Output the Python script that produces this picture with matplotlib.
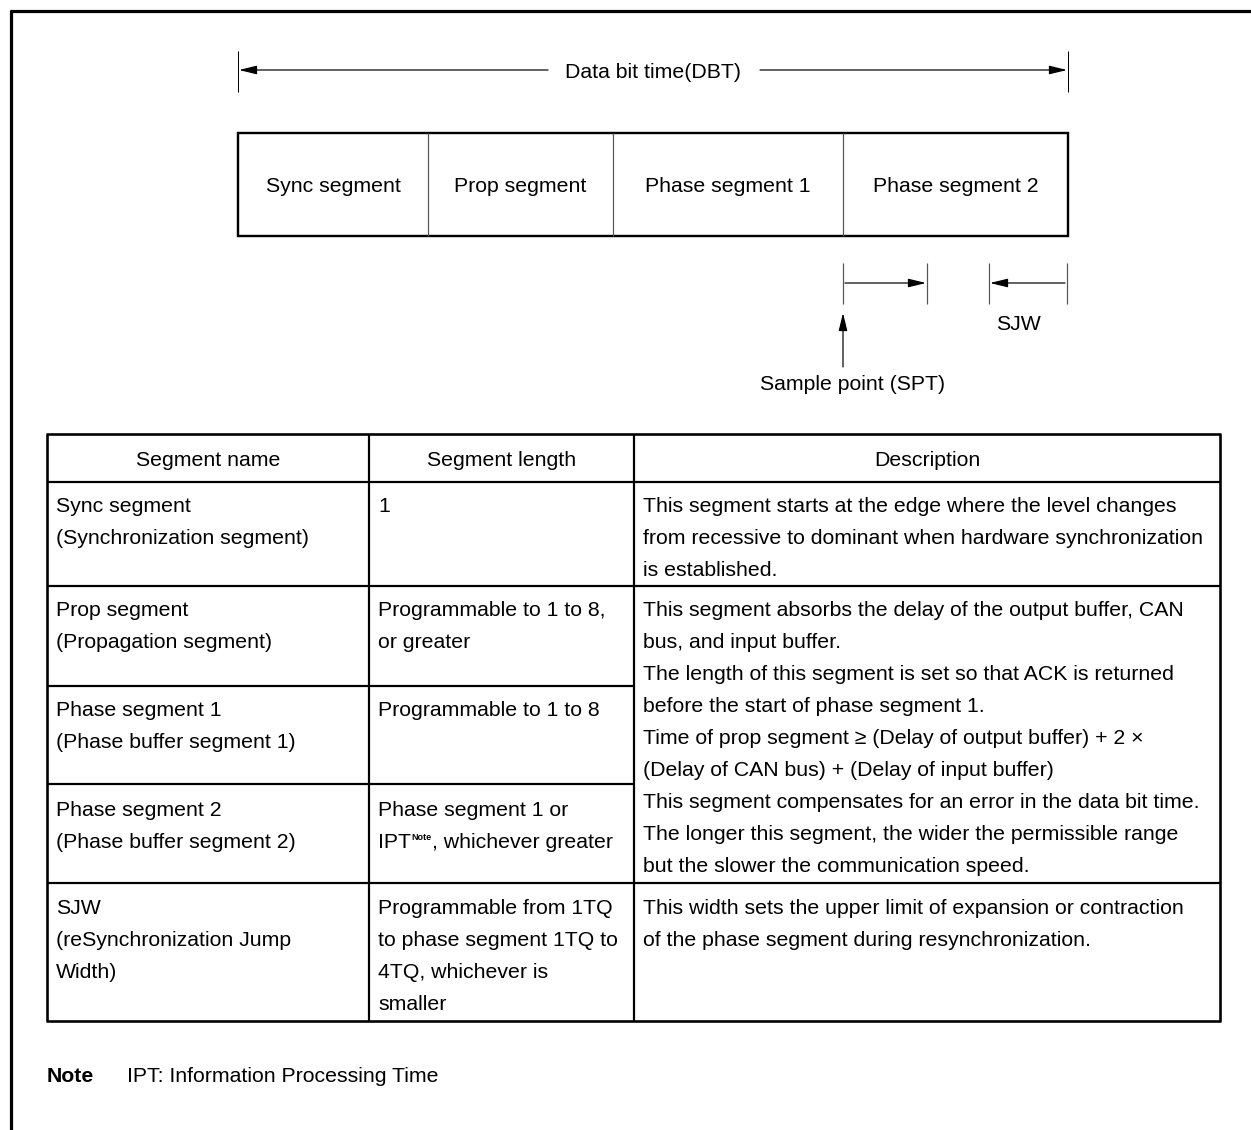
import matplotlib
matplotlib.use("Agg")
import matplotlib.pyplot as plt

plt.rcParams['font.family'] = ['Liberation Sans', 'DejaVu Sans']

# ---------------- data ----------------
dbt_label = "Data bit time(DBT)"
segments = ["Sync segment", "Prop segment", "Phase segment 1", "Phase segment 2"]
sjw_label = "SJW"
spt_label = "Sample point (SPT)"

headers = ["Segment name", "Segment length", "Description"]
names = [
    ["Sync segment", "(Synchronization segment)"],
    ["Prop segment", "(Propagation segment)"],
    ["Phase segment 1", "(Phase buffer segment 1)"],
    ["Phase segment 2", "(Phase buffer segment 2)"],
    ["SJW", "(reSynchronization Jump", "Width)"],
]
lengths = [
    ["1"],
    ["Programmable to 1 to 8,", "or greater"],
    ["Programmable to 1 to 8"],
    ["Phase segment 1 or", "IPT|Note|, whichever greater"],
    ["Programmable from 1TQ", "to phase segment 1TQ to", "4TQ, whichever is", "smaller"],
]
descriptions = [
    ["This segment starts at the edge where the level changes",
     "from recessive to dominant when hardware synchronization",
     "is established."],
    ["This segment absorbs the delay of the output buffer, CAN",
     "bus, and input buffer.",
     "The length of this segment is set so that ACK is returned",
     "before the start of phase segment 1.",
     "Time of prop segment \u2265 (Delay of output buffer) + 2 \u00d7",
     "(Delay of CAN bus) + (Delay of input buffer)",
     "This segment compensates for an error in the data bit time.",
     "The longer this segment, the wider the permissible range",
     "but the slower the communication speed."],
    ["This width sets the upper limit of expansion or contraction",
     "of the phase segment during resynchronization."],
]
desc_rows = [0, 1, 4]  # first table row of each description block
note_label = "Note"
note_text = "IPT: Information Processing Time"

# ---------------- layout ----------------
W, H = 1251, 1130
fig = plt.figure(figsize=(W / 100, H / 100), dpi=100)
ax = fig.add_axes([0, 0, 1, 1])
ax.set_xlim(0, W)
ax.set_ylim(H, 0)
ax.axis('off')

FS = 15.3
PX = 0.72  # points per pixel

def line(x0, y0, x1, y1, lw=1.0, color='black'):
    ax.plot([x0, x1], [y0, y1], color=color, lw=lw * PX, solid_capstyle='butt')

def arrow(x0, y0, x1, y1):
    ax.annotate('', xy=(x1, y1), xytext=(x0, y0),
                arrowprops=dict(arrowstyle='-|>,head_length=0.9,head_width=0.22',
                                mutation_scale=12, lw=1.2 * PX, color='black',
                                shrinkA=0, shrinkB=0))

def txt(x, y, s, ha='left', **kw):
    # y: visual center of the text line
    return ax.text(x, y + 7.5, s, ha=ha, va='baseline', fontsize=kw.pop('fontsize', FS), **kw)

# frame
line(9.5, 11, W, 11, lw=3.2)
line(11, 9.5, 11, H, lw=3.2)

# DBT dimension
xl, xr = 238, 1068
line(xl, 51, xl, 92, lw=1.0)
line(xr, 51, xr, 92, lw=1.0)
txt(653, 70, dbt_label, ha='center')
arrow(548, 70, xl + 1, 70)
arrow(760, 70, xr - 1, 70)

# segment box
bounds = [238, 428, 613, 843, 1068]
top, bot = 133, 236
for b in bounds[1:-1]:
    line(b, top, b, bot, lw=1.2, color='#555555')
for i, s in enumerate(segments):
    txt((bounds[i] + bounds[i + 1]) / 2, 184, s, ha='center')
ax.add_patch(plt.Rectangle((xl, top), xr - xl, bot - top, fill=False,
                           lw=2.4 * PX, edgecolor='black'))

# phase2 sub-dimensions
for xx in [843, 927, 989, 1067]:
    line(xx, 263, xx, 304, lw=1.2, color='#555555')
arrow(845, 283, 926, 283)
arrow(1065, 283, 990, 283)
txt(996, 322, sjw_label)
arrow(843, 367, 843, 313)
txt(853, 383, spt_label, ha='center')

# table
tx0, tx1 = 47, 1220
cols = [47, 369, 634, 1220]
row_lines = [434, 482, 586, 686, 784, 883, 1021]
LS = 32
PAD = 9

txt_h = (row_lines[0] + row_lines[1]) / 2 + 1
for i, h in enumerate(headers):
    txt((cols[i] + cols[i + 1]) / 2, txt_h, h, ha='center')

# horizontal lines
line(tx0 - 1, row_lines[0], tx1 + 1, row_lines[0], lw=2.6)
line(tx0 - 1, row_lines[-1], tx1 + 1, row_lines[-1], lw=2.6)
line(tx0, row_lines[1], tx1, row_lines[1], lw=2.2)
line(tx0, row_lines[2], tx1, row_lines[2], lw=2.2)
line(tx0, row_lines[3], cols[2], row_lines[3], lw=2.2)
line(tx0, row_lines[4], cols[2], row_lines[4], lw=2.2)
line(tx0, row_lines[5], tx1, row_lines[5], lw=2.2)
for c in cols:
    lw = 2.6 if c in (cols[0], cols[-1]) else 2.2
    line(c, row_lines[0], c, row_lines[-1], lw=lw)

fig.canvas.draw()
renderer = fig.canvas.get_renderer()

def rich(x, y, s):
    parts = s.split('|')
    if len(parts) == 1:
        txt(x, y, s)
        return
    cur = x
    for k, p in enumerate(parts):
        if k % 2 == 1:
            t = ax.text(cur + 0.5, y - 1, p, ha='left', va='baseline', fontsize=6.5,
                        fontweight='bold')
        else:
            t = txt(cur, y, p)
        bb = t.get_window_extent(renderer=renderer)
        cur = cur + bb.width + (0.5 if k % 2 == 1 else 0)

first_off = [23, 23, 23, 25, 24]
for r in range(5):
    y0 = row_lines[r + 1] + first_off[r]
    for k, s in enumerate(names[r]):
        txt(cols[0] + PAD, y0 + k * LS, s)
    for k, s in enumerate(lengths[r]):
        rich(cols[1] + PAD, y0 + k * LS, s)
for d, r in enumerate(desc_rows):
    y0 = row_lines[r + 1] + first_off[r]
    for k, s in enumerate(descriptions[d]):
        txt(cols[2] + PAD, y0 + k * LS, s)

# note
txt(47, 1075, note_label, fontweight='bold')
txt(127, 1075, note_text)

fig.savefig('out.png', dpi=100)
